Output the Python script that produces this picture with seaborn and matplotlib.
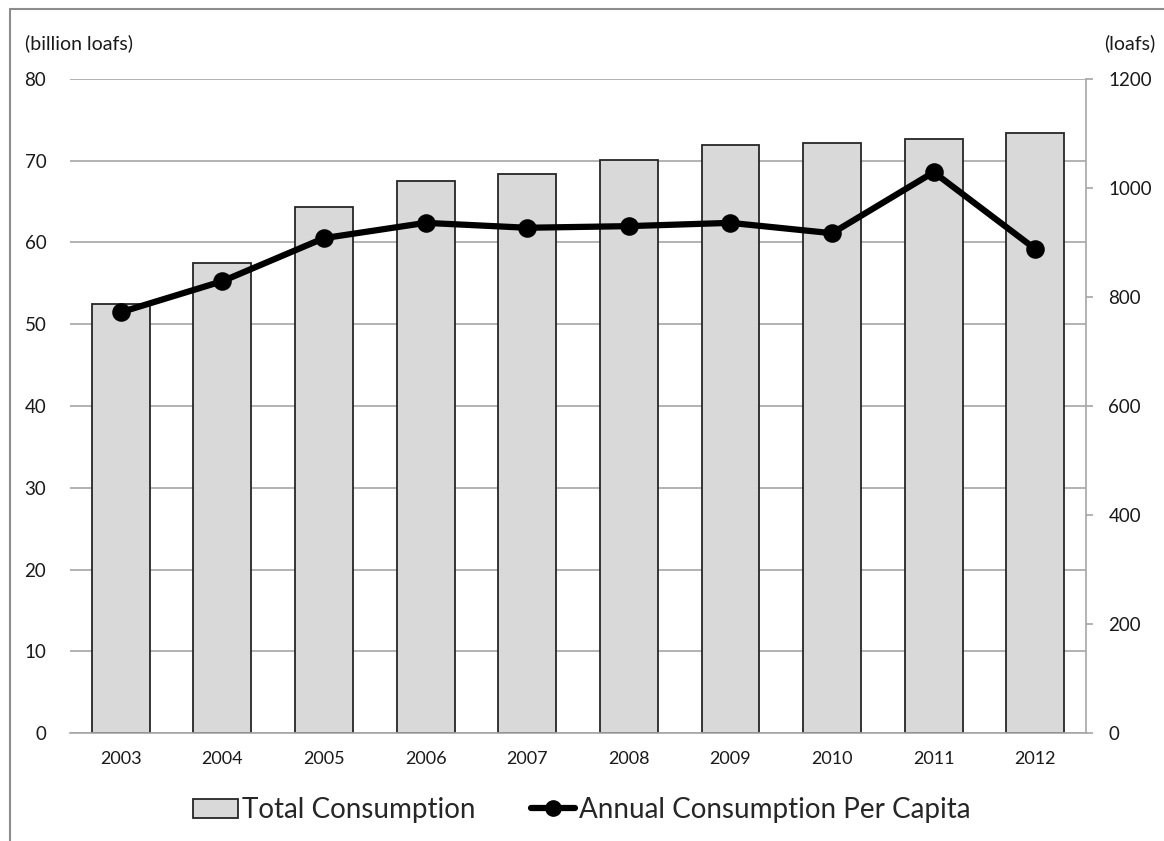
import pandas as pd
import seaborn as sns
import matplotlib.pyplot as plt
from matplotlib.lines import Line2D
from matplotlib.patches import Patch

# Datos
years = ["2003", "2004", "2005", "2006", "2007", "2008", "2009", "2010", "2011", "2012"]
total_consumption = [52.5, 57.5, 64.3, 67.5, 68.4, 70.1, 71.9, 72.2, 72.7, 73.4]   # billion loafs
per_capita = [772, 829, 908, 936, 927, 930, 936, 917, 1029, 888]                   # loafs

df = pd.DataFrame({"year": years, "total": total_consumption, "per_capita": per_capita})

sns.set_style("white")
plt.rcParams["font.family"] = ["Lato", "DejaVu Sans"]

fig = plt.figure(figsize=(11.64, 8.41), dpi=100)
ax = fig.add_axes([0.0601, 0.1284, 0.873, 0.7777])

# barras (eje izquierdo)
sns.barplot(data=df, x="year", y="total", color="#d9d9d9", saturation=1,
            width=0.57, edgecolor="#262626", linewidth=1.3, ax=ax)
ax.set_ylim(0, 80)
ax.set_yticks(range(0, 81, 10))
ax.grid(axis="y", color="#a6a6a6", linewidth=1.2)
ax.set_axisbelow(True)
ax.set_xlabel("")
ax.set_ylabel("")
for s in ["left", "top", "right"]:
    ax.spines[s].set_visible(False)
ax.spines["bottom"].set_color("#a6a6a6")
ax.spines["bottom"].set_linewidth(1.2)
ax.tick_params(axis="y", length=0, pad=17, labelsize=13.5, colors="#1a1a1a")
ax.tick_params(axis="x", length=0, pad=13, labelsize=13, colors="#1a1a1a")

# linea (eje derecho)
ax2 = ax.twinx()
sns.pointplot(data=df, x="year", y="per_capita", color="black", markers="o",
              markersize=10, linewidth=4.5, ax=ax2)
ax2.set_ylim(0, 1200)
ax2.set_yticks(range(0, 1201, 200))
ax2.set_ylabel("")
ax2.set_xlabel("")
for s in ["left", "top", "bottom"]:
    ax2.spines[s].set_visible(False)
ax2.spines["right"].set_color("#a6a6a6")
ax2.spines["right"].set_linewidth(1.2)
ax2.tick_params(axis="y", length=5, width=1.2, color="#a6a6a6", pad=11,
                labelsize=13.5, labelcolor="#1a1a1a")

# unidades
fig.text(25 / 1164, 1 - 43 / 841, "(billion loafs)", fontsize=14, va="center", ha="left", color="#1a1a1a")
fig.text(1155 / 1164, 1 - 43 / 841, "(loafs)", fontsize=14, va="center", ha="right", color="#1a1a1a")

# leyenda
handles = [
    Patch(facecolor="#d9d9d9", edgecolor="#262626", linewidth=1.3),
    Line2D([0], [0], color="black", linewidth=4.5, marker="o", markersize=11),
]
fig.legend(handles, ["Total Consumption", "Annual Consumption Per Capita"],
           loc="center", bbox_to_anchor=(0.5, 1 - 810 / 841), ncol=2, frameon=False,
           fontsize=20, handlelength=1.6, handletextpad=0.15, columnspacing=2.0)

# marco
fig.add_artist(Line2D([10 / 1164, 10 / 1164], [0, 1 - 9 / 841], color="#8c8c8c",
                      linewidth=1.5, transform=fig.transFigure))
fig.add_artist(Line2D([10 / 1164, 1], [1 - 9 / 841, 1 - 9 / 841], color="#8c8c8c",
                      linewidth=1.5, transform=fig.transFigure))

fig.savefig("out.png", dpi=100)
